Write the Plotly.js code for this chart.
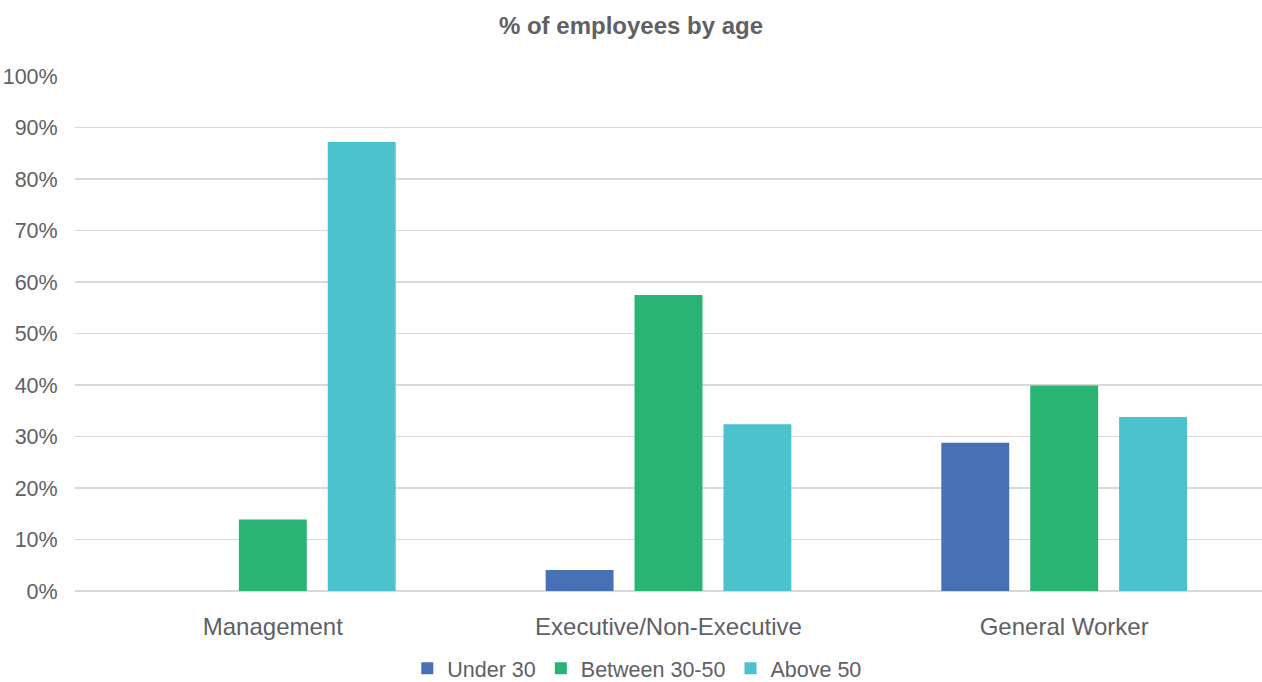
<!DOCTYPE html>
<html>
<head>
<meta charset="utf-8">
<script src="https://cdn.plot.ly/plotly-3.0.1.min.js"></script>
<style>html,body{margin:0;padding:0;background:#fff;}#chart{width:1262px;height:682px;}</style>
</head>
<body>
<div id="chart"></div>
<script>
const categories = ["Management", "Executive/Non-Executive", "General Worker"];
const under30 = [0, 4.1, 28.8];
const between3050 = [13.9, 57.5, 39.9];
const above50 = [87.2, 32.4, 33.8];
const seriesNames = ["Under 30", "Between 30-50", "Above 50"];
const seriesColors = ["#4870b6", "#29b473", "#4bc2cd"];
const yTicks = [0,10,20,30,40,50,60,70,80,90,100];
const yTickLabels = yTicks.map(v => v + "%");

const allSeries = [under30, between3050, above50];
const textColor = "#606066";
const traces = allSeries.map((vals, i) => ({
  type: "bar",
  name: seriesNames[i],
  x: categories,
  y: vals,
  marker: {color: seriesColors[i], line: {width: 0}},
  hoverinfo: "x+y+name"
}));

const layout = {
  width: 1262, height: 682,
  paper_bgcolor: "#ffffff", plot_bgcolor: "#ffffff",
  font: {family: "Liberation Sans, Arial, sans-serif", color: textColor},
  title: {text: "<b>% of employees by age</b>", font: {size: 24, color: textColor}, x: 0.5, xref: "container", y: 0.963, yref: "container", yanchor: "middle"},
  margin: {l: 75, r: 0, t: 76, b: 91},
  barmode: "group",
  bargap: 0.326,
  bargroupgap: 0.236,
  xaxis: {
    type: "category",
    tickfont: {size: 24, color: textColor},
    ticks: "outside", ticklen: 14, tickcolor: "rgba(0,0,0,0)",
    showgrid: false, showline: false, zeroline: false, automargin: false
  },
  yaxis: {
    range: [0, 100],
    tickvals: yTicks, ticktext: yTickLabels,
    tickfont: {size: 21.5, color: textColor},
    ticks: "outside", ticklen: 12, tickcolor: "rgba(0,0,0,0)",
    showgrid: true, gridcolor: "#d9d9d9", gridwidth: 1.5,
    zeroline: true, zerolinecolor: "#d9d9d9", zerolinewidth: 1.5,
    showline: false, fixedrange: true, automargin: false
  },
  showlegend: true,
  legend: {
    orientation: "h", x: 0.505, xref: "container", xanchor: "center", y: 0.02, yref: "container", yanchor: "middle",
    font: {size: 21.5, color: textColor}, itemwidth: 30, traceorder: "normal"
  }
};

Plotly.newPlot("chart", traces, layout, {displayModeBar: false, staticPlot: true});
</script>
</body>
</html>
